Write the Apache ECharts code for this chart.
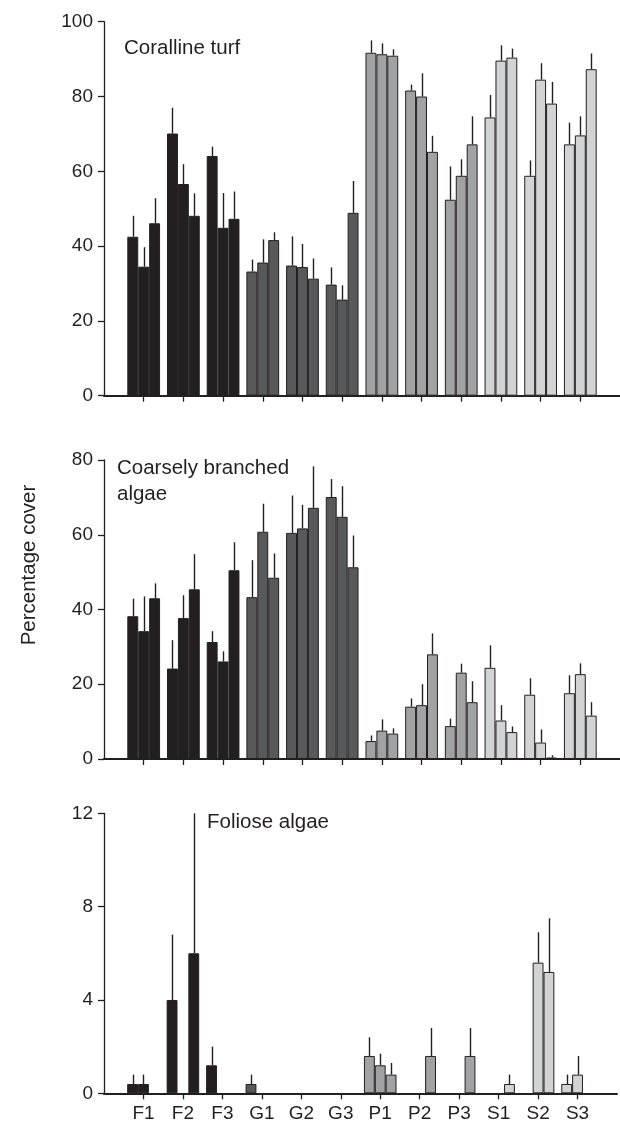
<!DOCTYPE html>
<html>
<head>
<meta charset="utf-8">
<script src="https://cdn.jsdelivr.net/npm/echarts@6/dist/echarts.min.js"></script>
<style>
  html, body { margin: 0; padding: 0; background: #ffffff; }
  #chart { width: 620px; height: 1128px; }
</style>
</head>
<body>
<div id="chart"></div>
<script>
// Sites: F, G, P and S groups, three replicate sites each
const categories = ['F1', 'F2', 'F3', 'G1', 'G2', 'G3', 'P1', 'P2', 'P3', 'S1', 'S2', 'S3'];

// Coralline turf: mean cover per site (three bars each) and top of the error bar
const turfMean = [
  [42.5, 34.5, 46.1], [70.1, 56.6, 48.1], [64.1, 44.9, 47.3],
  [33.2, 35.6, 41.6], [34.8, 34.4, 31.3], [29.7, 25.7, 48.9],
  [91.7, 91.3, 90.9], [81.6, 80.0, 65.2], [52.4, 58.8, 67.2],
  [74.4, 89.6, 90.4], [58.8, 84.5, 78.1], [67.2, 69.6, 87.3]
];
const turfUpper = [
  [48.1, 39.7, 52.8], [77.0, 61.9, 54.1], [66.6, 54.2, 54.6],
  [36.4, 41.8, 43.7], [42.6, 40.6, 36.7], [34.3, 29.5, 57.4],
  [95.0, 94.2, 92.6], [83.2, 86.2, 69.5], [61.3, 63.2, 74.7],
  [80.4, 93.7, 92.8], [62.9, 88.9, 83.9], [73.0, 74.7, 91.5]
];

// Coarsely branched algae
const branchedMean = [
  [38.2, 34.2, 43.0], [24.2, 37.7, 45.4], [31.3, 26.1, 50.5],
  [43.3, 60.8, 48.5], [60.5, 61.7, 67.2], [70.1, 64.8, 51.3],
  [4.8, 7.6, 6.8], [14.0, 14.4, 28.0], [8.8, 23.1, 15.2],
  [24.4, 10.3, 7.2], [17.2, 4.4, 0.4], [17.6, 22.7, 11.6]
];
const branchedUpper = [
  [42.9, 43.5, 47.0], [31.8, 43.8, 54.8], [34.2, 28.8, 58.0],
  [53.2, 68.3, 55.0], [70.5, 68.0, 78.3], [74.9, 73.0, 59.8],
  [6.3, 10.6, 8.2], [16.2, 20.0, 33.6], [10.8, 25.5, 20.8],
  [30.4, 14.4, 8.7], [21.6, 7.9, 1.0], [22.4, 25.6, 15.2]
];

// Foliose algae
const folioseMean = [
  [0.4, 0.4, 0], [4.0, 0, 6.0], [1.2, 0, 0],
  [0.4, 0, 0], [0, 0, 0], [0, 0, 0],
  [1.6, 1.2, 0.8], [0, 0, 1.6], [0, 0, 1.6],
  [0, 0, 0.4], [0, 5.6, 5.2], [0.4, 0.8, 0]
];
const folioseUpper = [
  [0.8, 0.8, 0], [6.8, 0, 12.0], [2.0, 0, 0],
  [0.8, 0, 0], [0, 0, 0], [0, 0, 0],
  [2.4, 1.7, 1.3], [0, 0, 2.8], [0, 0, 2.8],
  [0, 0, 0.8], [0, 6.9, 7.5], [0.8, 1.6, 0]
];

// Y axis scales for the three panels
const yMax = [100, 80, 12];
const yStep = [20, 20, 4];

const INK = '#231f20';
const FONT = "'Liberation Sans', Arial, Helvetica, sans-serif";
const groupColor = { F: '#231f20', G: '#58595b', P: '#a1a2a4', S: '#d2d3d5' };

// Padded category list: blank slots at both ends leave room beside the first and last site
const axisCats = [''].concat(categories, ['']);

const panels = [
  { mean: turfMean, upper: turfUpper, top: 21.7, height: 374 },
  { mean: branchedMean, upper: branchedUpper, top: 460, height: 299 },
  { mean: folioseMean, upper: folioseUpper, top: 813.3, height: 280 }
];

const BAR_FRACTION = 0.825; // share of each slot covered by the three bars

const grids = [], xAxes = [], yAxes = [], series = [];

panels.forEach((p, k) => {
  grids.push({ left: 104, width: 520, top: p.top, height: p.height, containLabel: false });
  xAxes.push({
    type: 'category',
    gridIndex: k,
    data: axisCats,
    boundaryGap: false,
    axisLine: { lineStyle: { color: INK, width: 2 } },
    axisTick: {
      length: 6,
      lineStyle: { color: INK, width: 1.3 },
      interval: (idx) => idx > 0 && idx < axisCats.length - 1
    },
    axisLabel: {
      show: k === 2,
      interval: 0,
      margin: 11,
      color: INK,
      fontFamily: FONT,
      fontSize: 19
    },
    splitLine: { show: false }
  });
  yAxes.push({
    type: 'value',
    gridIndex: k,
    min: 0,
    max: yMax[k],
    interval: yStep[k],
    axisLine: { show: true, lineStyle: { color: INK, width: 1.3 } },
    axisTick: { show: true, length: 6, lineStyle: { color: INK, width: 1.3 } },
    axisLabel: { margin: 11, color: INK, fontFamily: FONT, fontSize: 19 },
    splitLine: { show: false }
  });

  for (let j = 0; j < 3; j++) {
    const data = [null].concat(categories.map((c, i) => ({
      value: p.mean[i][j],
      itemStyle: { color: groupColor[c[0]], borderWidth: p.mean[i][j] > 0 ? 1 : 0 }
    })), [null]);
    series.push({
      type: 'bar',
      xAxisIndex: k,
      yAxisIndex: k,
      data: data,
      barGap: '0%',
      barCategoryGap: ((1 - BAR_FRACTION) * 100) + '%',
      itemStyle: { borderColor: INK, borderWidth: 1 },
      silent: true,
      z: 2
    });
  }

  // Upward error bars from each bar top
  const errData = [];
  categories.forEach((c, i) => {
    for (let j = 0; j < 3; j++) {
      if (p.upper[i][j] > p.mean[i][j]) errData.push([i + 1, j, p.mean[i][j], p.upper[i][j]]);
    }
  });
  series.push({
    type: 'custom',
    xAxisIndex: k,
    yAxisIndex: k,
    data: errData,
    encode: { x: 0, y: 3 },
    silent: true,
    z: 3,
    renderItem: function (params, api) {
      const cat = api.value(0);
      const pos = api.value(1);
      const base = api.coord([cat, api.value(2)]);
      const tip = api.coord([cat, api.value(3)]);
      const band = api.size([1, 0])[0];
      const w = band * BAR_FRACTION / 3;
      const x = Math.round(base[0] + (pos - 1) * w) + 0.5;
      return {
        type: 'line',
        shape: { x1: x, y1: base[1], x2: x, y2: tip[1] },
        style: { stroke: INK, lineWidth: 1.4 }
      };
    }
  });
});

const textStyle = (s) => Object.assign({ fill: INK, font: '20.5px ' + FONT, verticalAlign: 'middle' }, s);

const option = {
  animation: false,
  backgroundColor: '#ffffff',
  grid: grids,
  xAxis: xAxes,
  yAxis: yAxes,
  series: series,
  graphic: [
    { type: 'text', x: 124, y: 48, style: textStyle({ text: 'Coralline turf' }) },
    { type: 'text', x: 117, y: 468, style: textStyle({ text: 'Coarsely branched' }) },
    { type: 'text', x: 117, y: 494, style: textStyle({ text: 'algae' }) },
    { type: 'text', x: 207, y: 822, style: textStyle({ text: 'Foliose algae' }) },
    {
      type: 'text', x: 29, y: 565, rotation: Math.PI / 2,
      style: textStyle({ text: 'Percentage cover', align: 'center' })
    }
  ]
};

const chart = echarts.init(document.getElementById('chart'), null, { renderer: 'canvas' });
chart.setOption(option);
</script>
</body>
</html>
